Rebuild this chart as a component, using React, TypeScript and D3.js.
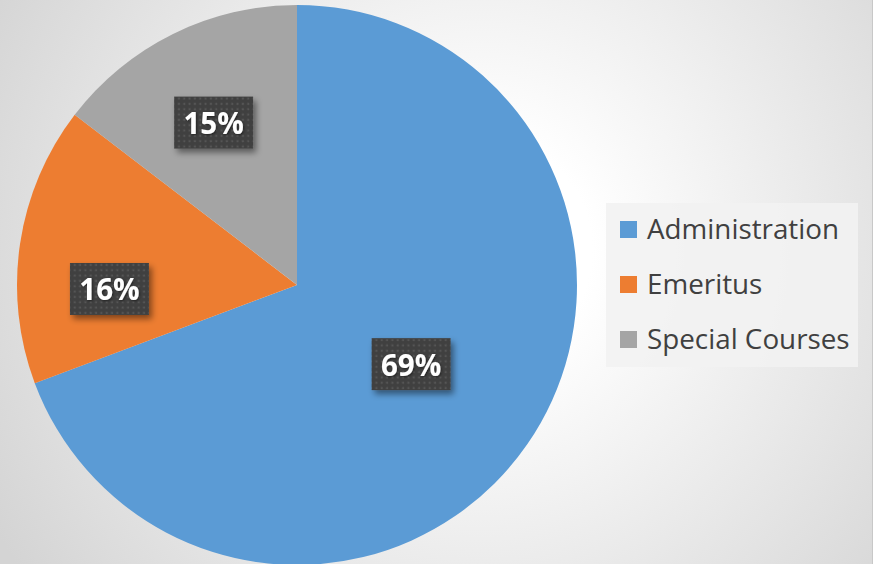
import React from "react";
import * as d3 from "d3";

const categories = ["Administration", "Emeritus", "Special Courses"];
const values = [69.3, 16.1, 14.6];
const colors = ["#5B9BD5", "#ED7D31", "#A5A5A5"];

// label placement: fraction along slice angle, fraction of radius
const labelAngleFrac = [0.5, 0.333, 0.483];
const labelRadiusFrac = [0.496, 0.67, 0.652];

const W = 873;
const H = 564;
const cx = 297;
const cy = 285;
const R = 280;

export default function App() {
  const pie = d3.pie<number>().sort(null).value((d) => d)(values);
  const arc = d3.arc<d3.PieArcDatum<number>>().innerRadius(0).outerRadius(R);
  const total = d3.sum(values);
  const boxW = 79;
  const boxH = 52;

  return (
    <svg
      width={W}
      height={H}
      style={{ position: "absolute", left: 0, top: 0, display: "block" }}
    >
      <defs>
        <radialGradient id="bg" gradientUnits="userSpaceOnUse" cx={480} cy={250} r={560}>
          <stop offset="0" stopColor="#ffffff" />
          <stop offset="0.2" stopColor="#ffffff" />
          <stop offset="1" stopColor="#d4d4d4" />
        </radialGradient>
        <pattern id="dots" patternUnits="userSpaceOnUse" width={5.33} height={5.33}>
          <rect width={5.33} height={5.33} fill="#414141" />
          <rect x={1.6} y={1.6} width={2} height={2} fill="#545454" />
        </pattern>
        <filter id="shadow" x="-20%" y="-20%" width="150%" height="160%">
          <feDropShadow dx={3} dy={4} stdDeviation={3} floodColor="#000" floodOpacity={0.45} />
        </filter>
        <filter id="tshadow" x="-20%" y="-20%" width="140%" height="140%">
          <feDropShadow dx={1} dy={1} stdDeviation={1} floodColor="#000" floodOpacity={0.5} />
        </filter>
      </defs>
      <rect x={0} y={0} width={W} height={H} fill="url(#bg)" />
      <line x1={W - 0.5} y1={0} x2={W - 0.5} y2={H} stroke="#c8c8c8" />
      <g transform={`translate(${cx},${cy})`}>
        {pie.map((p, i) => (
          <path key={i} d={arc(p) || ""} fill={colors[i]} />
        ))}
        {pie.map((p, i) => {
          const a = p.startAngle + (p.endAngle - p.startAngle) * labelAngleFrac[i];
          const r = R * labelRadiusFrac[i];
          const x = r * Math.sin(a);
          const y = -r * Math.cos(a);
          const label = `${Math.round((values[i] / total) * 100)}%`;
          return (
            <g key={"l" + i} transform={`translate(${x},${y})`}>
              <rect
                x={-boxW / 2}
                y={-boxH / 2}
                width={boxW}
                height={boxH}
                fill="url(#dots)"
                filter="url(#shadow)"
              />
              <text
                x={0}
                y={11.5}
                textAnchor="middle"
                fontFamily="'Open Sans', sans-serif"
                fontWeight={700}
                fontSize={29.5}
                fill="#ffffff"
                filter="url(#tshadow)"
              >
                {label}
              </text>
            </g>
          );
        })}
      </g>
      <g>
        <rect x={606} y={203} width={252} height={164} fill="#f2f2f2" fillOpacity={0.9} />
        {categories.map((c, i) => {
          const yc = 229.5 + i * 55;
          return (
            <g key={c}>
              <rect x={620} y={yc - 8.5} width={17} height={17} fill={colors[i]} />
              <text
                x={647}
                y={yc + 9.5}
                fontFamily="'Open Sans', sans-serif"
                fontSize={27.8}
                fill="#404040"
              >
                {c}
              </text>
            </g>
          );
        })}
      </g>
    </svg>
  );
}
